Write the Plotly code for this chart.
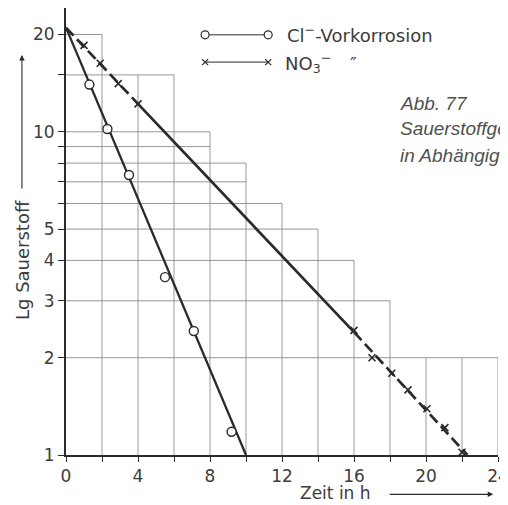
import plotly.graph_objects as go

# measured points (time in h, oxygen)
cl_t = [1.3, 2.3, 3.5, 5.5, 7.1, 9.2]
cl_o2 = [14.0, 10.2, 7.35, 3.55, 2.42, 1.18]
no3_t = [1.0, 1.9, 2.9, 4.0, 16.0, 17.0, 18.1, 19.0, 20.05, 21.05, 22.0]
no3_o2 = [18.5, 16.3, 14.1, 12.2, 2.43, 2.0, 1.79, 1.59, 1.39, 1.215, 1.02]

# fitted straight lines
cl_fit_t = [0, 10]
cl_fit_o2 = [21.0, 1.0]
no3_fit_t = [0, 4, 16, 22.3]
no3_fit_o2 = [21.0, 12.2, 2.4, 1.0]

# staircase grid
hgrid_y = [20, 15, 10, 9, 8, 7, 6, 5, 4, 3, 2]
hgrid_xend = [2, 6, 8, 8, 10, 10, 12, 14, 16, 18, 24]
vgrid_x = [2, 4, 6, 8, 10, 12, 14, 16, 18, 20, 22, 24]
vgrid_ytop = [20, 15, 15, 10, 8, 6, 5, 4, 3, 2, 2, 2]

y_ticks = [1, 2, 3, 4, 5, 6, 7, 8, 9, 10, 15, 20]
y_labels = ["1", "2", "3", "4", "5", "", "", "", "", "10", "", "20"]
x_ticks = list(range(0, 25, 2))
x_labels = [str(v) if v % 4 == 0 else "" for v in x_ticks]

INK = "#2a2a2a"
GRID = "#8c8c8c"
FONT = "DejaVu Sans"
TXT = "#3c3c3c"
CAPTION = "#505050"

gx, gy = [], []
for yv, xe in zip(hgrid_y, hgrid_xend):
    gx += [0, xe, None]
    gy += [yv, yv, None]
for xv, yt in zip(vgrid_x, vgrid_ytop):
    gx += [xv, xv, None]
    gy += [1, yt, None]

fig = go.Figure()

fig.add_trace(go.Scatter(x=gx, y=gy, mode="lines",
                         line=dict(color=GRID, width=0.9), hoverinfo="skip"))

fig.add_trace(go.Scatter(x=cl_fit_t, y=cl_fit_o2, mode="lines",
                         line=dict(color=INK, width=2.3)))

# NO3 line: dashed where the points are, solid in between
fig.add_trace(go.Scatter(x=no3_fit_t[0:2], y=no3_fit_o2[0:2], mode="lines",
                         line=dict(color=INK, width=2.7, dash="11px,5px")))
fig.add_trace(go.Scatter(x=no3_fit_t[1:3], y=no3_fit_o2[1:3], mode="lines",
                         line=dict(color=INK, width=2.7)))
fig.add_trace(go.Scatter(x=no3_fit_t[2:4], y=no3_fit_o2[2:4], mode="lines",
                         line=dict(color=INK, width=2.7, dash="11px,5px")))

fig.add_trace(go.Scatter(x=cl_t, y=cl_o2, mode="markers",
                         marker=dict(symbol="circle", size=9, color="white",
                                     line=dict(color=INK, width=1.4))))
fig.add_trace(go.Scatter(x=no3_t, y=no3_o2, mode="markers",
                         marker=dict(symbol="x-thin", size=7,
                                     line=dict(color=INK, width=1.6))))

# legend drawn by hand (marker at both ends of the sample line)
LEG_X = [0.322, 0.468]
LEG_Y = [0.940, 0.879]
shapes = []
for yp in LEG_Y:
    shapes.append(dict(type="line", xref="paper", yref="paper",
                       x0=LEG_X[0], x1=LEG_X[1], y0=yp, y1=yp,
                       line=dict(color=INK, width=1)))
for xp in LEG_X:
    shapes.append(dict(type="circle", xref="paper", yref="paper",
                       xsizemode="pixel", ysizemode="pixel",
                       xanchor=xp, yanchor=LEG_Y[0], x0=-4, x1=4, y0=-4, y1=4,
                       fillcolor="white", line=dict(color=INK, width=1.2)))
    shapes.append(dict(type="path", xref="paper", yref="paper",
                       xsizemode="pixel", ysizemode="pixel",
                       xanchor=xp, yanchor=LEG_Y[1],
                       path="M-3,-3 L3,3 M-3,3 L3,-3",
                       line=dict(color=INK, width=1.2)))

annotations = [
    dict(text="Cl<sup>−</sup>-Vorkorrosion", x=0.507, y=0.942, xanchor="left",
         yanchor="middle", font=dict(size=18, color=TXT, family=FONT)),
    dict(text="NO<sub>3</sub><sup>−</sup>", x=0.502, y=0.877, xanchor="left",
         yanchor="middle", font=dict(size=18, color=TXT, family=FONT)),
    dict(text="″", x=0.665, y=0.875, xanchor="center", yanchor="middle",
         font=dict(size=18, color=TXT, family=FONT)),
    dict(text="<i>Abb. 77</i>", x=0.769, y=0.787, xanchor="left", yanchor="middle",
         font=dict(size=19, color=CAPTION, family="Liberation Sans")),
    dict(text="<i>Sauerstoffgehalt</i>", x=0.769, y=0.731, xanchor="left",
         yanchor="middle", font=dict(size=19, color=CAPTION, family="Liberation Sans")),
    dict(text="<i>in Abhängigkeit</i>", x=0.769, y=0.671, xanchor="left",
         yanchor="middle", font=dict(size=19, color=CAPTION, family="Liberation Sans")),
    dict(text="Lg Sauerstoff", x=-0.102, y=0.436, textangle=-90, xanchor="center",
         yanchor="middle", font=dict(size=18, color=TXT, family=FONT)),
    dict(text="Zeit in h", x=0.623, y=-0.086, xanchor="center", yanchor="middle",
         font=dict(size=17, color=TXT, family=FONT)),
    # axis arrows
    dict(text="", x=-0.102, y=0.895, ax=0, ay=135, showarrow=True,
         arrowhead=2, arrowsize=1, arrowwidth=1.1, arrowcolor=INK),
    dict(text="", x=0.989, y=-0.088, ax=-105, ay=0, showarrow=True,
         arrowhead=2, arrowsize=1, arrowwidth=1.1, arrowcolor=INK),
]
for a in annotations:
    a.setdefault("xref", "paper")
    a.setdefault("yref", "paper")
    a.setdefault("showarrow", False)

# the page body adds an 8px margin, so the figure is 8px smaller
fig.update_layout(
    width=500, height=497,
    margin=dict(l=58, r=10, t=0, b=50),
    paper_bgcolor="white", plot_bgcolor="white",
    showlegend=False,
    shapes=shapes,
    annotations=annotations,
    xaxis=dict(range=[0, 24], tickvals=x_ticks, ticktext=x_labels, automargin=False,
               ticklabeloverflow="allow",
               showgrid=False, zeroline=False, showline=True,
               linecolor=INK, linewidth=2, ticks="outside", ticklen=5,
               tickcolor=INK, tickfont=dict(size=17, color=TXT, family=FONT)),
    yaxis=dict(type="log", range=[0, 1.383], tickvals=y_ticks, ticktext=y_labels,
               automargin=False,
               showgrid=False, zeroline=False, showline=True,
               linecolor=INK, linewidth=2, ticks="outside", ticklen=6,
               tickcolor=INK, tickfont=dict(size=17, color=TXT, family=FONT)),
)

fig.write_html("out.html")
